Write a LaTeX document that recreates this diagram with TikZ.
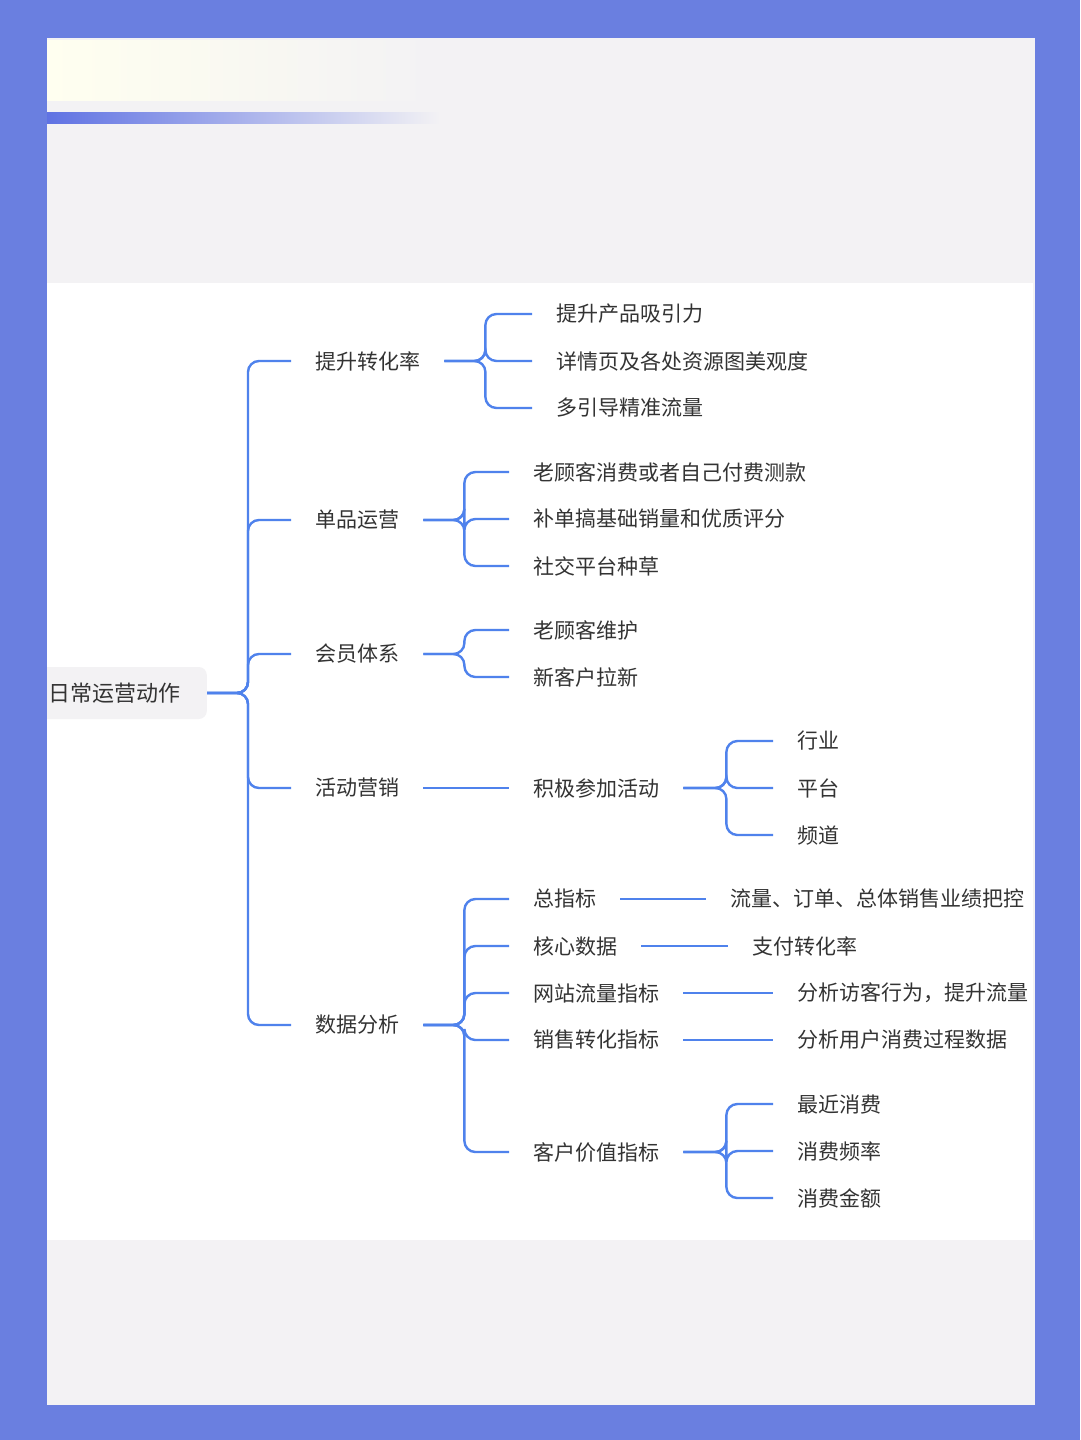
\documentclass[tikz,border=0pt]{standalone}
\usepackage{fontspec}
\setmainfont{Noto Sans CJK SC}
\definecolor{frameblue}{HTML}{6A7FE0}
\definecolor{cardgray}{HTML}{F3F2F4}
\definecolor{linkblue}{HTML}{4F82EC}
\definecolor{txt}{HTML}{333333}
\tikzset{%
    item/.style={anchor=west,inner xsep=24pt,inner ysep=2pt,text=txt,font=\fontsize{21}{25}\selectfont},
    edge/.style={linkblue,line width=2.4pt,rounded corners=11pt}
}
\begin{document}
\begin{tikzpicture}[x=1pt,y=-1pt]
    \useasboundingbox (0,0) rectangle (1080,1440);
    \fill[frameblue] (0,0) rectangle (1080,1440);
    \fill[cardgray] (47,38) rectangle (1035,1405);
    \fill[white] (47,283) rectangle (1033,1240);
    \shade[left color=yellow!6,right color=cardgray] (47,40) rectangle (430,100);
    \shade[left color=frameblue!90!blue,right color=cardgray] (47,112) rectangle (440,123);
    \begin{scope}
        \clip (47,283) rectangle (1033,1240);
        % root
        \node[anchor=east,fill=cardgray,rounded corners=8pt,minimum height=52pt,inner xsep=26pt,text=txt,font=\fontsize{22}{26}\selectfont] (root) at (207,693) {日常运营动作};
        % first level
        \node[item] (conv) at (291,361) {提升转化率};
        \node[item] (single) at (291,520) {单品运营};
        \node[item] (member) at (291,654) {会员体系};
        \node[item] (promo) at (291,788) {活动营销};
        \node[item] (data) at (291,1025) {数据分析};
        % conversion
        \node[item] (c1) at (532,314) {提升产品吸引力};
        \node[item] (c2) at (532,361) {详情页及各处资源图美观度};
        \node[item] (c3) at (532,408) {多引导精准流量};
        % single product
        \node[item] (s1) at (509,472) {老顾客消费或者自己付费测款};
        \node[item] (s2) at (509,519) {补单搞基础销量和优质评分};
        \node[item] (s3) at (509,566) {社交平台种草};
        % members
        \node[item] (m1) at (509,630) {老顾客维护};
        \node[item] (m2) at (509,677) {新客户拉新};
        % promotion
        \node[item] (p1) at (509,788) {积极参加活动};
        \node[item] (p11) at (773,741) {行业};
        \node[item] (p12) at (773,788) {平台};
        \node[item] (p13) at (773,835) {频道};
        % data
        \node[item] (d1) at (509,899) {总指标};
        \node[item] (d2) at (509,946) {核心数据};
        \node[item] (d3) at (509,993) {网站流量指标};
        \node[item] (d4) at (509,1040) {销售转化指标};
        \node[item] (d5) at (509,1152) {客户价值指标};
        \node[item] (d11) at (706,899) {流量、订单、总体销售业绩把控};
        \node[item] (d21) at (728,946) {支付转化率};
        \node[item] (d31) at (773,993) {分析访客行为，提升流量};
        \node[item] (d41) at (773,1040) {分析用户消费过程数据};
        \node[item] (d51) at (773,1104) {最近消费};
        \node[item] (d52) at (773,1151) {消费频率};
        \node[item] (d53) at (773,1198) {消费金额};

        \foreach \c in {conv,single,member,promo,data}
            \draw[edge] (root.east) -- ++(41,0) |- (\c.west);
        \foreach \c in {c1,c2,c3}
            \draw[edge] (conv.east) -- ++(41,0) |- (\c.west);
        \foreach \c in {s1,s2,s3}
            \draw[edge] (single.east) -- ++(41,0) |- (\c.west);
        \foreach \c in {m1,m2}
            \draw[edge] (member.east) -- ++(41,0) |- (\c.west);
        \draw[edge] (promo.east) -- (p1.west);
        \foreach \c in {p11,p12,p13}
            \draw[edge] (p1.east) -- ++(43,0) |- (\c.west);
        \foreach \c in {d1,d2,d3,d4,d5}
            \draw[edge] (data.east) -- ++(41,0) |- (\c.west);
        \draw[edge] (d1.east) -- (d11.west);
        \draw[edge] (d2.east) -- (d21.west);
        \draw[edge] (d3.east) -- (d31.west);
        \draw[edge] (d4.east) -- (d41.west);
        \foreach \c in {d51,d52,d53}
            \draw[edge] (d5.east) -- ++(43,0) |- (\c.west);
    \end{scope}
\end{tikzpicture}
\end{document}
